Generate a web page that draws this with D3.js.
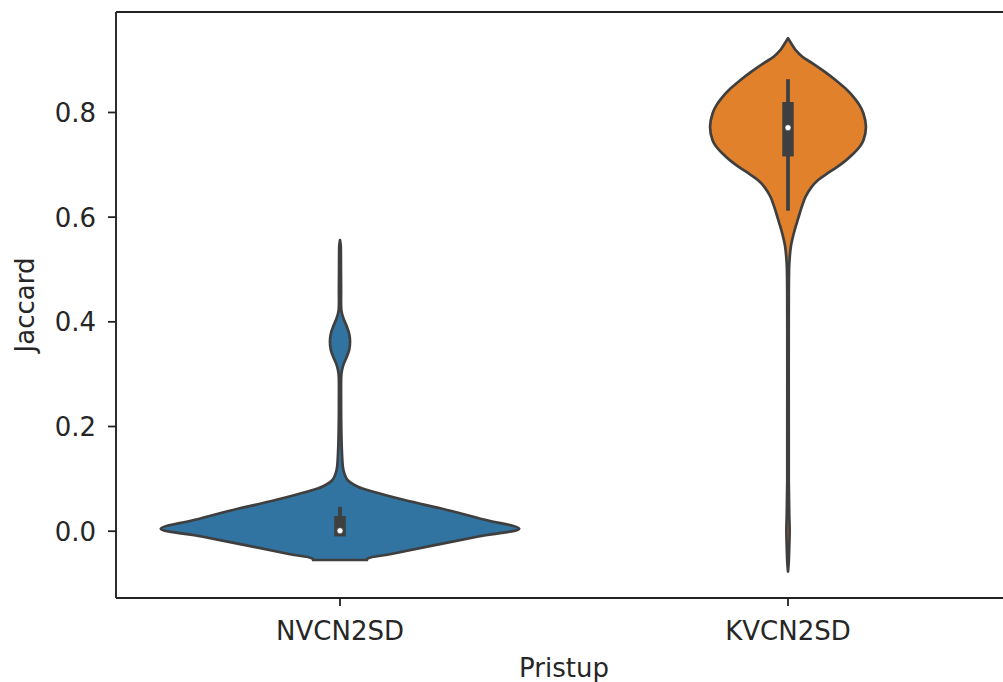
<!DOCTYPE html>
<html>
<head>
<meta charset="utf-8">
<script src="https://cdn.jsdelivr.net/npm/d3@7"></script>
<style>
  html, body { margin: 0; padding: 0; background: #fff; }
  svg { display: block; }
</style>
</head>
<body>
<svg id="chart" width="1003" height="682"></svg>
<script>
// ---------------- data ----------------
const categories = ["NVCN2SD", "KVCN2SD"];
const yTicks = [0.0, 0.2, 0.4, 0.6, 0.8];
const xLabel = "Pristup";
const yLabel = "Jaccard";

// violin outline: y value and relative half-width (1 = widest violin)
const nvValues = [0.555, 0.545, 0.52, 0.46, 0.42, 0.405, 0.39, 0.375, 0.36, 0.345, 0.33, 0.315, 0.30, 0.25, 0.20, 0.148, 0.116, 0.097, 0.084, 0.0745, 0.0587, 0.0396, 0.020, 0.004, -0.0115, -0.031, -0.045, -0.053, -0.056];
const nvWidths = [0, 0.004, 0.005, 0.006, 0.008, 0.020, 0.038, 0.052, 0.056, 0.051, 0.035, 0.017, 0.008, 0.006, 0.007, 0.011, 0.019, 0.042, 0.100, 0.185, 0.360, 0.597, 0.820, 1.0, 0.765, 0.480, 0.279, 0.156, 0.150];

const kvValues = [0.941, 0.93, 0.918, 0.905, 0.893, 0.877, 0.861, 0.845, 0.829, 0.813, 0.797, 0.772, 0.746, 0.733, 0.721, 0.708, 0.695, 0.683, 0.670, 0.655, 0.638, 0.622, 0.606, 0.59, 0.574, 0.558, 0.543, 0.52, 0.50, 0.40, 0.20, 0.10, 0.03, 0.0, -0.03, -0.06, -0.078];
const kvWidths = [0, 0.020, 0.043, 0.082, 0.137, 0.204, 0.265, 0.321, 0.365, 0.399, 0.421, 0.435, 0.421, 0.399, 0.367, 0.325, 0.275, 0.222, 0.168, 0.128, 0.098, 0.080, 0.065, 0.051, 0.037, 0.025, 0.016, 0.009, 0.006, 0.004, 0.004, 0.004, 0.007, 0.009, 0.007, 0.004, 0];

// inner box statistics: [whiskerLow, q25, median, q75, whiskerHigh]
const nvBox = [0.0, 0.0, 0.0, 0.017, 0.042];
const kvBox = [0.615, 0.726, 0.770, 0.808, 0.859];

const colors = ["#3274a1", "#e1812c"];

// ---------------- layout ----------------
const svg = d3.select("#chart");
const mLeft = 116, mRight = 1012, mTop = 12, mBottom = 598;
const FONT = "'DejaVu Sans', sans-serif";
const FS = 26;
const gray = "#3f3f3f";

const x = d3.scaleBand().domain(categories).range([mLeft, mRight]).padding(0);
const y = d3.scaleLinear().domain([-0.1286, 0.991]).range([mBottom, mTop]);
const halfMax = x.bandwidth() * 0.4;

const violins = [
  { cat: categories[0], values: nvValues, widths: nvWidths, box: nvBox, color: colors[0] },
  { cat: categories[1], values: kvValues, widths: kvWidths, box: kvBox, color: colors[1] }
];

const plot = svg.append("g");

violins.forEach(v => {
  const cx = x(v.cat) + x.bandwidth() / 2;
  const pts = v.values.map((val, i) => [val, v.widths[i]]);
  const area = d3.area()
    .curve(d3.curveCatmullRom.alpha(0.5))
    .y(d => y(d[0]))
    .x0(d => cx - d[1] * halfMax)
    .x1(d => cx + d[1] * halfMax);
  plot.append("path")
    .attr("d", area(pts))
    .attr("fill", v.color)
    .attr("stroke", gray)
    .attr("stroke-width", 2.7)
    .attr("stroke-linejoin", "round");

  const [wl, q1, med, q3, wh] = v.box;
  plot.append("line")
    .attr("x1", cx).attr("x2", cx)
    .attr("y1", y(wl)).attr("y2", y(wh))
    .attr("stroke", gray).attr("stroke-width", 3.8)
    .attr("stroke-linecap", "square");
  plot.append("line")
    .attr("x1", cx).attr("x2", cx)
    .attr("y1", y(q1)).attr("y2", y(q3))
    .attr("stroke", gray).attr("stroke-width", 11.5)
    .attr("stroke-linecap", "square");
  plot.append("circle")
    .attr("cx", cx).attr("cy", y(med)).attr("r", 3)
    .attr("fill", "#fff").attr("stroke", gray).attr("stroke-width", 0.6);
});

// ---------------- axes ----------------
const yAxis = d3.axisLeft(y).tickValues(yTicks).tickFormat(d3.format(".1f")).tickSize(8).tickPadding(12);
const gy = svg.append("g").attr("transform", `translate(${mLeft},0)`).call(yAxis);
gy.select(".domain").remove();
gy.selectAll(".tick line").attr("stroke", "#222").attr("stroke-width", 1.8);
gy.selectAll(".tick text").attr("font-family", FONT).attr("font-size", FS).attr("fill", "#262626").attr("dy", "0.36em");

const xAxis = d3.axisBottom(x).tickSize(8).tickPadding(12);
const gx = svg.append("g").attr("transform", `translate(0,${mBottom})`).call(xAxis);
gx.select(".domain").remove();
gx.selectAll(".tick line").attr("stroke", "#222").attr("stroke-width", 1.8);
gx.selectAll(".tick text").attr("font-family", FONT).attr("font-size", FS).attr("fill", "#262626").attr("dy", "0").attr("y", 42);

// spines
const sp = svg.append("g").attr("stroke", "#222").attr("stroke-width", 1.9).attr("fill", "none");
sp.append("line").attr("x1", mLeft).attr("x2", mLeft).attr("y1", mTop).attr("y2", mBottom);
sp.append("line").attr("x1", mLeft).attr("x2", mRight).attr("y1", mTop).attr("y2", mTop);
sp.append("line").attr("x1", mLeft).attr("x2", mRight).attr("y1", mBottom).attr("y2", mBottom);
sp.append("line").attr("x1", mRight).attr("x2", mRight).attr("y1", mTop).attr("y2", mBottom);

// axis titles
svg.append("text")
  .attr("x", (mLeft + mRight) / 2).attr("y", 677)
  .attr("text-anchor", "middle")
  .attr("font-family", FONT).attr("font-size", FS).attr("fill", "#262626")
  .text(xLabel);
svg.append("text")
  .attr("transform", `translate(34,${(mTop + mBottom) / 2}) rotate(-90)`)
  .attr("text-anchor", "middle")
  .attr("font-family", FONT).attr("font-size", FS).attr("fill", "#262626")
  .text(yLabel);
</script>
</body>
</html>
